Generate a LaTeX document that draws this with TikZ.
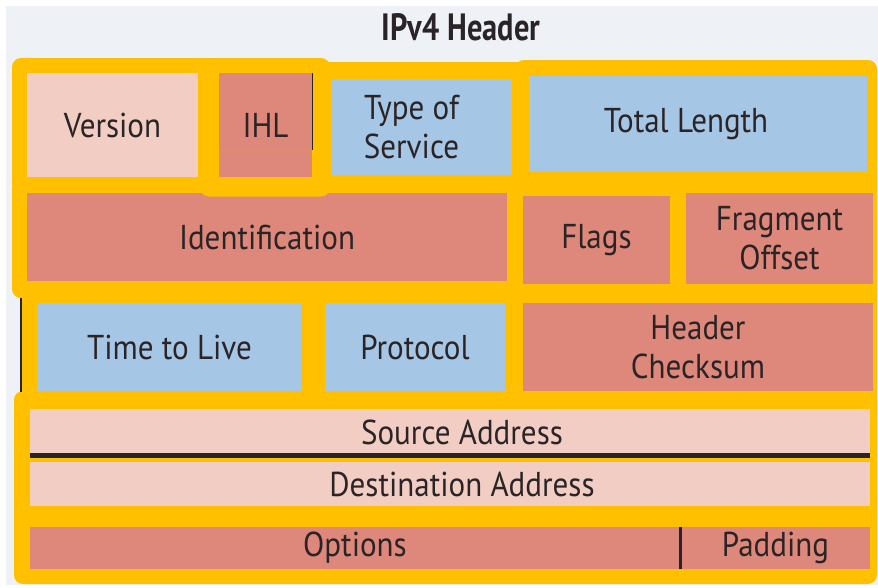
\documentclass[tikz,border=0pt]{standalone}
\usepackage{fontspec}
\newfontfamily\lblfont[FakeStretch=0.9]{PT Sans}
\newfontfamily\ttlfont[FakeStretch=0.8]{PT Sans}
\definecolor{ylw}{HTML}{FFC000}
\definecolor{panel}{HTML}{EEF2F6}
\definecolor{pinkl}{HTML}{F1CDC3}
\definecolor{salmon}{HTML}{DD887B}
\definecolor{bluel}{HTML}{A6C6E6}
\definecolor{txt}{HTML}{2A2426}
\tikzset{
  fld/.style={inner sep=0pt, outer sep=0pt, align=center, text=txt,
    font=\lblfont\fontsize{34.5}{39}\selectfont},
  ygroup/.style={fill=ylw, rounded corners=9pt},
  ybar/.style={fill=ylw}
}
\begin{document}
\begin{tikzpicture}[x=1pt,y=-1pt]
\useasboundingbox (0,0) rectangle (878,587);
\fill[white] (0,0) rectangle (878,587);
\fill[panel] (6,6) rectangle (878,585);
\node[text=txt, font=\ttlfont\bfseries\fontsize{38}{42}\selectfont] (title) at (461,27) {IPv4 Header};
% yellow groups
\fill[ybar] (320,62) rectangle (525,200);
\fill[ygroup] (12,180) rectangle (520,298);
\fill[ygroup] (515,60) rectangle (877,300);
\fill[ybar] (21,290) rectangle (877,400);
\fill[ygroup] (14,391) rectangle (877,584);
\draw[line width=1.2pt, txt] (21,298) -- (21,392);
\fill[ygroup] (12,58) rectangle (330,193);
% row 1
\node[fld, fill=pinkl, minimum width=171pt, minimum height=104pt] (ver) at (112.5,125) {Version};
\node[fld, fill=salmon, minimum width=93pt, minimum height=104pt] (ihl) at (265.5,125) {IHL};
\draw[txt, line width=0.8pt] (ihl.north east) -- (ihl.south east);
\node[fld, fill=bluel, minimum width=181pt, minimum height=96pt] (tos) at (421.5,127) {\hspace*{-20pt}Type of\\\hspace*{-20pt}Service};
\node[fld, fill=bluel, minimum width=338pt, minimum height=96pt] (tl) at (698,124) {\hspace*{-24pt}Total Length};
% row 2
\node[fld, fill=salmon, minimum width=480pt, minimum height=88pt] (id) at (267,237) {Identification};
\node[fld, fill=salmon, minimum width=147pt, minimum height=88pt] (flags) at (596.5,240) {Flags};
\node[fld, fill=salmon, minimum width=187pt, minimum height=91pt] (frag) at (779.5,238.5) {Fragment\\Offset};
% IHL group frame: its lower rounded corners show over row 2
\fill[ylw, even odd rule] [rounded corners=9pt] (200,150) rectangle (330,196.5)
  [sharp corners] (219,150) rectangle (312,177);
% row 3
\node[fld, fill=bluel, minimum width=265pt, minimum height=88pt] (ttl) at (169.5,347) {Time to Live};
\node[fld, fill=bluel, minimum width=180pt, minimum height=88pt] (proto) at (415,347) {Protocol};
\node[fld, fill=salmon, minimum width=350pt, minimum height=88pt] (chk) at (698,347) {Header\\Checksum};
% row 4
\node[fld, fill=pinkl, minimum width=840pt, minimum height=46pt] (src) at (450,432) {\hspace*{24pt}Source Address};
\node[fld, fill=pinkl, minimum width=840pt, minimum height=44pt] (dst) at (450,484) {\hspace*{24pt}Destination Address};
\draw[txt, line width=5pt] (src.south west) -- (src.south east);
% row 5
\node[fld, fill=salmon, minimum width=651pt, minimum height=42pt] (opt) at (355,548) {Options};
\node[fld, fill=salmon, minimum width=189pt, minimum height=42pt] (pad) at (775.5,548) {Padding};
\draw[txt, line width=3pt] (opt.north east) -- (opt.south east);
\end{tikzpicture}
\end{document}
